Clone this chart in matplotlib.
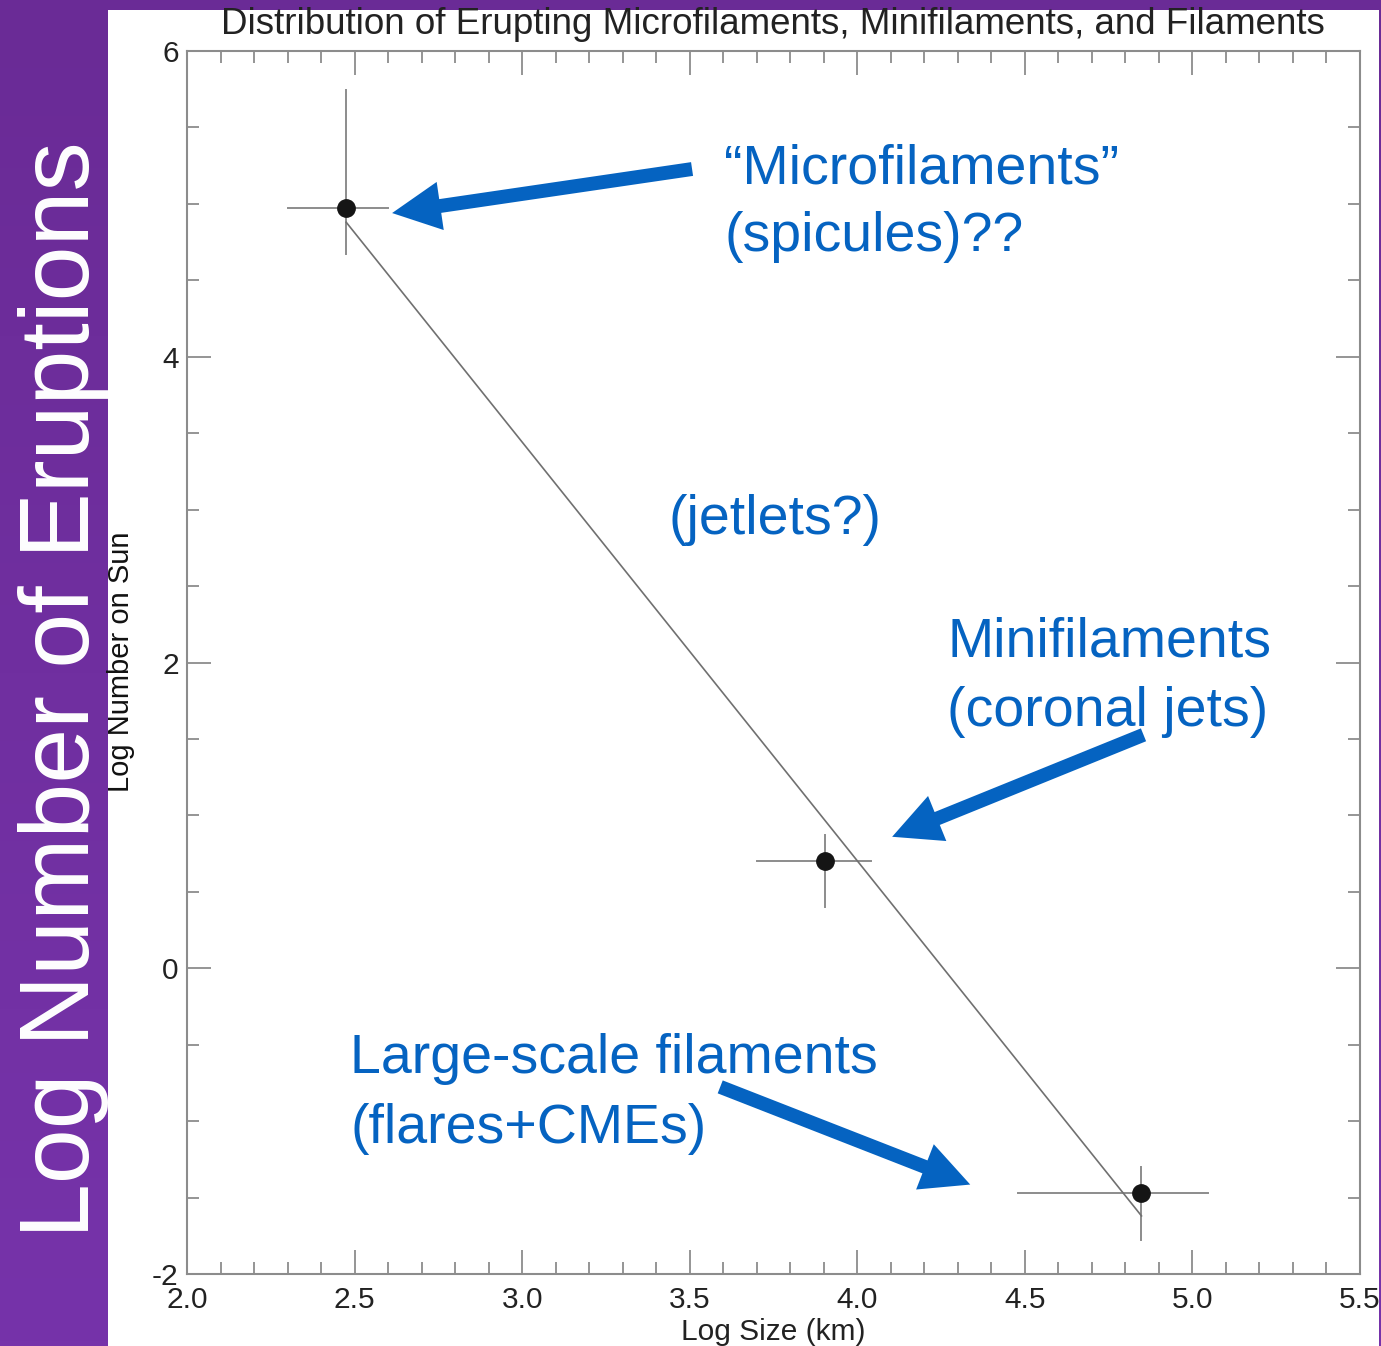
import matplotlib
matplotlib.use("Agg")
import matplotlib.pyplot as plt
import numpy as np
from matplotlib.patches import Rectangle, ArrowStyle
from matplotlib.ticker import MultipleLocator
from matplotlib.colors import LinearSegmentedColormap

# ---------------- data ----------------
log_size = [2.475, 3.905, 4.848]
log_number = [4.97, 0.70, -1.47]
size_lo = [2.30, 3.70, 4.48]
size_hi = [2.60, 4.04, 5.045]
number_lo = [4.67, 0.40, -1.78]
number_hi = [5.745, 0.87, -1.30]
fit_x = [2.475, 4.848]
fit_y = [4.88, -1.62]

x_ticks = [2.0, 2.5, 3.0, 3.5, 4.0, 4.5, 5.0, 5.5]
x_tick_labels = ["2.0", "2.5", "3.0", "3.5", "4.0", "4.5", "5.0", "5.5"]
y_ticks = [-2, 0, 2, 4, 6]
y_tick_labels = ["-2", "0", "2", "4", "6"]

title = "Distribution of Erupting Microfilaments, Minifilaments, and Filaments"
x_label = "Log Size (km)"
y_label = "Log Number on Sun"
side_label = "Log Number of Eruptions"

# annotations: text lines, arrows (tail -> tip in data coords)
notes = [
    ("\u201cMicrofilaments\u201d", 724, 169),
    ("(spicules)??", 724, 237),
    ("(jetlets?)", 668, 520),
    ("Minifilaments", 947, 642),
    ("(coronal jets)", 947, 712),
    ("Large-scale filaments", 350, 1059),
    ("(flares+CMEs)", 350, 1129),
]
arrow_tails = [(3.507, 5.228), (4.854, 1.527), (3.591, -0.776)]
arrow_tips = [(2.612, 4.94), (4.104, 0.86), (4.337, -1.415)]

# ---------------- figure ----------------
W, H, DPI = 1381, 1346, 100
fig = plt.figure(figsize=(W / DPI, H / DPI), dpi=DPI)
plt.rcParams["font.family"] = ["Liberation Sans", "DejaVu Sans"]

# purple gradient background
bg = fig.add_axes([0, 0, 1, 1], zorder=-10)
grad = np.linspace(0, 1, 256).reshape(-1, 1)
cmap = LinearSegmentedColormap.from_list("pp", ["#6a2b96", "#7633aa"])
bg.imshow(grad, aspect="auto", cmap=cmap, extent=[0, 1, 0, 1], origin="upper")
bg.add_patch(Rectangle((108 / W, 0), (1379 - 108) / W, 1 - 10 / H,
                       transform=bg.transAxes, facecolor="white", edgecolor="none"))
bg.set_xlim(0, 1)
bg.set_ylim(0, 1)
bg.axis("off")

left, right, top, bottom = 187, 1360, 51, 1274
ax = fig.add_axes([left / W, 1 - bottom / H, (right - left) / W, (bottom - top) / H])
ax.set_facecolor("none")

gray = "#8c8c8c"
for xv, yv, xl, xh, yl, yh in zip(log_size, log_number, size_lo, size_hi, number_lo, number_hi):
    ax.plot([xl, xh], [yv, yv], color=gray, lw=1.4, zorder=2)
    ax.plot([xv, xv], [yl, yh], color=gray, lw=1.4, zorder=2)
ax.plot(fit_x, fit_y, color="#707070", lw=1.2, zorder=3)
ax.plot(log_size, log_number, "o", color="#151515", ms=12.5, zorder=4)

ax.set_xlim(2.0, 5.5)
ax.set_ylim(-2, 6)
ax.set_xticks(x_ticks)
ax.set_xticklabels(x_tick_labels)
ax.set_yticks(y_ticks)
ax.set_yticklabels(y_tick_labels)
ax.xaxis.set_minor_locator(MultipleLocator(0.1))
ax.yaxis.set_minor_locator(MultipleLocator(0.5))
ax.tick_params(which="both", direction="in", top=True, right=True, color=gray, width=1.3,
               labelsize=21.5, labelcolor="#222222")
ax.tick_params(which="major", length=17)
ax.tick_params(which="minor", length=8.5)
ax.tick_params(axis="x", pad=9)
ax.tick_params(axis="y", pad=6)
for s in ax.spines.values():
    s.set_color(gray)
    s.set_linewidth(1.5)

fig.text(773 / W, 1 - 25 / H, title, ha="center", va="center", fontsize=26.5, color="#222222")
fig.text(773 / W, 1 - 1332 / H, x_label, ha="center", va="center", fontsize=21.5, color="#222222")
fig.text(121 / W, 1 - 662 / H, y_label, ha="center", va="center", fontsize=21,
         rotation=90, color="#111111")
fig.text(64 / W, 1 - 690 / H, side_label, ha="center", va="center", fontsize=71,
         rotation=90, color="white")

blue = "#0563c1"
for txt, px, py in notes:
    fig.text(px / W, 1 - py / H, txt, ha="left", va="center", fontsize=40, color=blue)

style = ArrowStyle("Simple", head_length=35, head_width=35, tail_width=10)
for tail, tip in zip(arrow_tails, arrow_tips):
    ax.annotate("", xy=tip, xytext=tail,
                arrowprops=dict(arrowstyle=style, mutation_scale=1, color=blue,
                                shrinkA=0, shrinkB=0, lw=0),
                annotation_clip=False, zorder=5)

fig.savefig("out.png", dpi=DPI)
